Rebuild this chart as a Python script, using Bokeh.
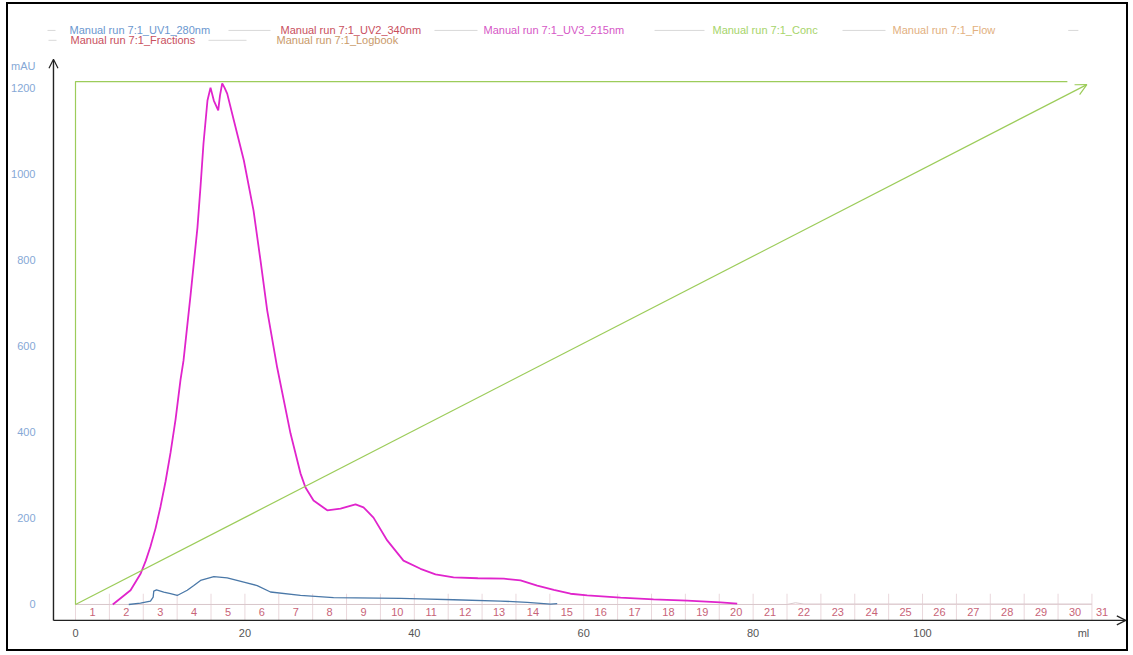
from bokeh.plotting import figure
from bokeh.models import Arrow, OpenHead, FixedTicker
from bokeh.embed import file_html
from bokeh.resources import INLINE
from bokeh.core.properties import value

# ---------------- data ----------------
uv3_ml = [4.4, 6.5, 7.7, 8.3, 8.85, 9.45, 10.04, 10.63, 11.22, 11.81, 12.40, 12.75, 13.58,
          14.40, 14.76, 15.11, 15.58, 15.94, 16.33, 16.85, 17.06, 17.32, 17.59, 17.91,
          18.69, 19.87, 21.02, 21.84, 22.63, 23.81, 25.38, 26.56, 27.15, 28.10, 29.72,
          31.29, 33.06, 34.00, 35.18, 36.80, 38.72, 40.73, 42.5, 44.63, 47.5, 50.57, 52.54,
          54.51, 56.47, 58.44, 60.41, 64.35, 68.24, 72.22, 76.15, 78.12]
uv3_mau = [0, 33, 72, 102, 135, 177, 228, 286, 353, 430, 523, 567, 719,
           877, 972, 1072, 1172, 1202, 1172, 1149, 1184, 1212, 1202, 1188,
           1126, 1033, 916, 800, 684, 551, 398, 305, 272, 242, 219,
           223, 233, 226, 202, 149, 102, 83, 70, 63, 61, 60, 56,
           44, 34, 25, 21, 16, 12, 9, 5, 2]

uv1_ml = [6.29, 7.67, 8.85, 9.17, 9.24, 9.56, 10.42, 11.22, 12.01, 13.19, 13.97, 14.76,
          16.33, 17.91, 19.87, 21.45, 23.02, 26.56, 30.46, 38.37, 40.73, 44.63, 50.18,
          53.33, 56.08, 56.87]
uv1_mau = [0, 3, 8, 17, 31, 34, 29, 25, 21, 33, 44, 56,
           65, 62, 52, 44, 29, 21, 16, 14, 13, 11, 8,
           5, 1, 2]

uv2_ml = [0, 84, 85, 86, 120]
uv2_mau = [0, 0, 4, 1, 1]

conc_ml = [0, 0, 117.1]
conc_mau = [0, 1216, 1216]
ramp_ml = [0, 119.4]
ramp_mau = [0, 1209]

frac_bounds = [0, 4, 8, 12, 16, 20, 24, 28, 32, 36, 40, 44, 48, 52, 56, 60, 64, 68, 72,
               76, 80, 84, 88, 92, 96, 100, 104, 108, 112, 116, 120]
frac_centers = [2, 6, 10, 14, 18, 22, 26, 30, 34, 38, 42, 46, 50, 54, 58, 62, 66, 70, 74,
                78, 82, 86, 90, 94, 98, 102, 106, 110, 114, 118, 121.2]
frac_labels = [str(i) for i in range(1, 32)]

x_ticks = [0, 20, 40, 60, 80, 100]
y_ticks = [0, 200, 400, 600, 800, 1000, 1200]

legend_names = ["Manual run 7:1_UV1_280nm", "Manual run 7:1_UV2_340nm",
                "Manual run 7:1_UV3_215nm", "Manual run 7:1_Conc",
                "Manual run 7:1_Flow", "Manual run 7:1_Fractions",
                "Manual run 7:1_Logbook"]
legend_colors = ["#6b97cf", "#c9505e", "#d657c6", "#a6d46a", "#e2b080", "#c9505e", "#c99a6a"]

# ---------------- figure ----------------
FONT = "Liberation Sans"
X0, X1 = -3.306, 124.08
Y0, Y1 = -51.2, 1395.3
p = figure(width=1118, height=645, output_backend="svg", toolbar_location=None,
           x_range=(X0, X1), y_range=(Y0, Y1),
           min_border_left=39, min_border_right=0, min_border_top=0, min_border_bottom=23,
           styles={"margin-left": "8px", "margin-top": "4px", "outline": "2px solid black"})
p.grid.visible = False
p.outline_line_color = None
p.background_fill_color = "white"
p.border_fill_color = "white"

# axes (lines drawn as arrows below)
for ax in (p.xaxis[0], p.yaxis[0]):
    ax.axis_line_color = None
    ax.major_tick_line_color = None
    ax.minor_tick_line_color = None
    ax.major_tick_out = 0
    ax.major_label_text_font = FONT
    ax.major_label_text_font_size = "11px"

p.xaxis.ticker = FixedTicker(ticks=x_ticks + [119])
p.xaxis.major_label_overrides = {119: "ml"}
p.xaxis.major_label_text_color = "#555555"
p.xaxis.major_label_standoff = 0

p.yaxis.ticker = FixedTicker(ticks=y_ticks + [1253])
p.yaxis.major_label_overrides = {1253: "mAU"}
p.yaxis.major_label_text_color = "#86a8d6"
p.yaxis.major_label_standoff = 12

AX_X, AX_Y = -2.6, -37
p.add_layout(Arrow(x_start=AX_X, y_start=AX_Y, x_end=AX_X, y_end=1268, line_color="#222222",
                   line_width=1.4, end=OpenHead(size=9, line_color="#222222", line_width=1.2)))
p.add_layout(Arrow(x_start=AX_X, y_start=AX_Y, x_end=124.0, y_end=AX_Y, line_color="#222222",
                   line_width=1.4, end=OpenHead(size=9, line_color="#222222", line_width=1.2)))

# fractions
p.line([0, 120], [0, 0], line_color="#eed6da", line_width=1)
p.segment(x0=frac_bounds, y0=[25] * len(frac_bounds), x1=frac_bounds, y1=[AX_Y] * len(frac_bounds),
          line_color="#ead8dc", line_width=1)
p.text(x=frac_centers, y=[-18] * len(frac_centers), text=frac_labels, text_align="center",
       text_baseline="middle", text_font=value(FONT), text_font_size="11px", text_color="#c86478")

# series
p.line(uv2_ml, uv2_mau, line_color="#d8c8cc", line_width=1)
p.line(conc_ml, conc_mau, line_color="#9ccc5a", line_width=1.2)
p.add_layout(Arrow(x_start=ramp_ml[0], y_start=ramp_mau[0], x_end=ramp_ml[1], y_end=ramp_mau[1],
                   line_color="#9ccc5a", line_width=1.2,
                   end=OpenHead(size=11, line_color="#9ccc5a", line_width=1.2)))
p.line(uv1_ml, uv1_mau, line_color="#4a78a8", line_width=1.3)
p.line(uv3_ml, uv3_mau, line_color="#e024cc", line_width=1.8)

# legend (two rows above the plot)
leg_text_x = [-0.71, 24.2, 48.17, 75.2, 96.46, -0.59, 23.73]
leg_row_y = [1335, 1335, 1335, 1335, 1335, 1312, 1312]
p.text(x=leg_text_x, y=leg_row_y, text=legend_names, text_color=legend_colors,
       text_baseline="middle", text_font=value(FONT), text_font_size="11px")
seg_x0 = [-6.85, 18.06, 42.38, 68.36, 90.55, 117.2, -6.73, -3.19, 15.70]
seg_x1 = [-2.36, 23.02, 47.46, 74.26, 95.63, 118.4, -4.25, -2.24, 20.19]
seg_y = [1335, 1335, 1335, 1335, 1335, 1335, 1312, 1312, 1312]
p.segment(x0=seg_x0, y0=seg_y, x1=seg_x1, y1=seg_y, line_color="#d9d9d9", line_width=1)

open("out.html", "w").write(file_html(p, INLINE))
